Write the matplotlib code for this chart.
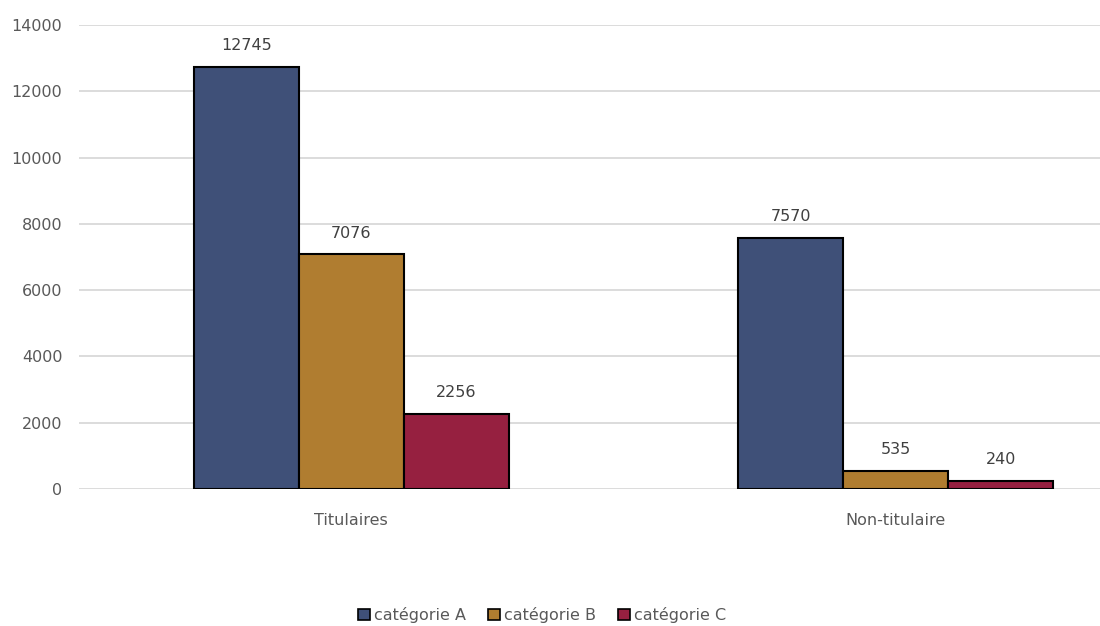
import matplotlib
matplotlib.use("Agg")
import matplotlib.pyplot as plt
import numpy as np
from matplotlib.patches import Patch

categories = ["Titulaires", "Non-titulaire"]
series_names = ["catégorie A", "catégorie B", "catégorie C"]
cat_a = [12745, 7570]
cat_b = [7076, 535]
cat_c = [2256, 240]
colors = ["#3F5078", "#B07D30", "#962040"]
yticks = [0, 2000, 4000, 6000, 8000, 10000, 12000, 14000]

plt.rcParams['font.family'] = ['DejaVu Sans']
fig = plt.figure(figsize=(11, 6.26), dpi=100)
ax = fig.add_axes([79/1100, 1-489/626, 1089/1100, (489-25)/626])

fs = 11.5
x = np.arange(len(categories))
w = 0.193
for i, (vals, c) in enumerate(zip([cat_a, cat_b, cat_c], colors)):
    bars = ax.bar(x + (i-1)*w, vals, w, color=c, edgecolor="black", linewidth=1.5, zorder=3)
    for b, v in zip(bars, vals):
        ax.annotate(str(v), (b.get_x()+b.get_width()/2, v), xytext=(0, 10),
                    textcoords="offset points", ha="center", va="bottom",
                    fontsize=fs, color="#404040")

ax.set_xlim(-0.5, 1.5)
ax.set_ylim(0, 14000)
ax.set_yticks(yticks)
ax.set_yticklabels([str(t) for t in yticks], fontsize=fs, color="#595959")
ax.set_xticks(x)
ax.set_xticklabels(categories, fontsize=fs, color="#595959")
ax.tick_params(axis="both", length=0)
ax.tick_params(axis="y", pad=12)
ax.tick_params(axis="x", pad=17)
ax.grid(axis="y", color="#D9D9D9", linewidth=1.3, zorder=0)
for s in ax.spines.values():
    s.set_visible(False)

handles = [Patch(facecolor=c, edgecolor="black", linewidth=1.2) for c in colors]
fig.legend(handles, series_names, loc="center", bbox_to_anchor=(542/1100, 1-615/626),
           ncol=3, frameon=False, fontsize=fs, handlelength=0.75, handleheight=0.75,
           handletextpad=0.25, columnspacing=1.4, labelcolor="#595959")

fig.savefig("out.png", dpi=100)
